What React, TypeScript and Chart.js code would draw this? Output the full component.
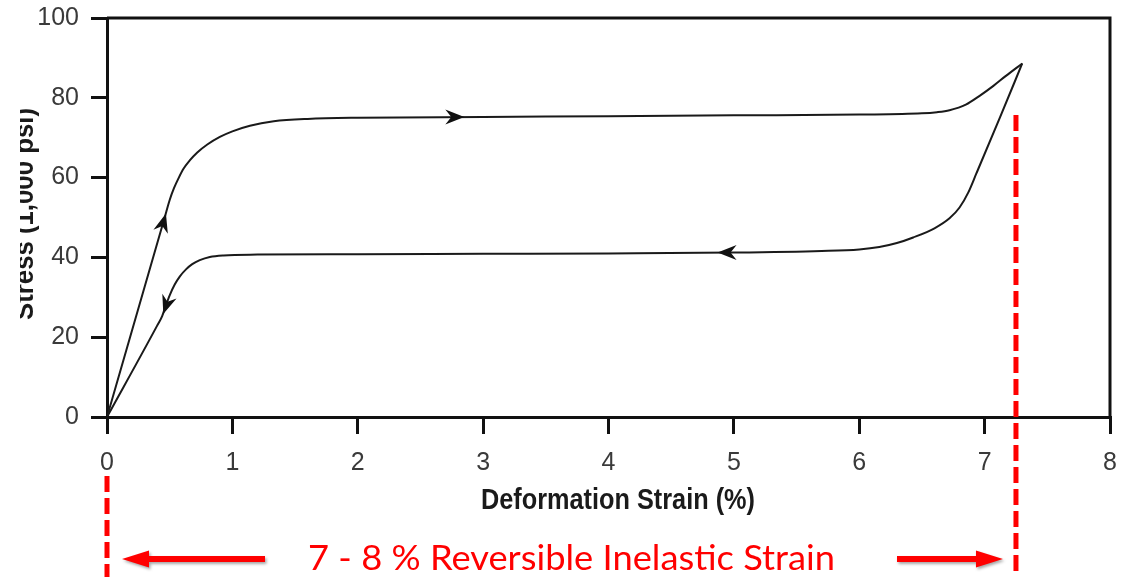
import React, { useEffect, useRef } from 'react';
import { Chart, registerables } from 'chart.js';

Chart.register(...registerables);

// ---- Data ----
const loadingStrain = [0, 0.46, 0.5, 0.535, 0.57, 0.61, 0.66, 0.72, 0.80, 0.90, 1.0, 1.14, 1.33, 1.6, 2.0, 3.0, 4.0, 5.0, 6.0, 6.5, 6.62, 6.72, 6.85, 6.96, 7.07, 7.17, 7.3];
const loadingStress = [0, 50.0, 54.4, 57.4, 59.8, 62.2, 64.3, 66.3, 68.3, 70.2, 71.6, 73.0, 74.1, 74.7, 75.0, 75.2, 75.4, 75.6, 75.8, 76.1, 76.4, 76.9, 78.3, 80.5, 83.0, 85.5, 88.6];

const unloadingStrain = [7.3, 7.12, 6.935, 6.87, 6.8, 6.72, 6.6, 6.43, 6.3, 6.16, 6.0, 5.7, 5.0, 4.0, 3.0, 2.0, 1.2, 0.93, 0.82, 0.74, 0.68, 0.63, 0.58, 0.54, 0.50, 0.47, 0.44, 0.40, 0];
const unloadingStress = [88.6, 74.9, 61.1, 56.3, 52.5, 49.8, 47.3, 45.0, 43.6, 42.6, 42.0, 41.6, 41.2, 41.0, 40.9, 40.8, 40.7, 40.5, 40.1, 39.3, 38.3, 37.0, 35.2, 33.2, 30.5, 28.0, 25.3, 22.9, 0];

// direction arrows: tip and a point behind the tip on the path
const arrowTipStrain = [0.47, 2.85, 4.87, 0.449];
const arrowTipStress = [51.0, 75.2, 41.2, 25.8];
const arrowTailStrain = [0.0, 2.5, 5.2, 0.50];
const arrowTailStress = [0.0, 75.2, 41.2, 30.5];

const xTickValues = [0, 1, 2, 3, 4, 5, 6, 7, 8];
const yTickValues = [0, 20, 40, 60, 80, 100];

// red annotation: strain range of reversible inelastic strain
const markerStrains = [0, 7.25];
const markerTopStress = [null, 75.7];

const xTitle = 'Deformation Strain (%)';
const yTitle = 'Stress (1,000 psi)';
const noteText = '7 - 8 % Reversible Inelastic Strain';

function fitText(ctx: CanvasRenderingContext2D, text: string, cx: number, cy: number, width: number) {
  const w = ctx.measureText(text).width;
  ctx.save();
  ctx.translate(cx, cy);
  ctx.scale(width / w, 1);
  ctx.textAlign = 'center';
  ctx.fillText(text, 0, 0);
  ctx.restore();
}

const decorPlugin = {
  id: 'decor',
  afterDraw(chart: any) {
    const ctx: CanvasRenderingContext2D = chart.ctx;
    const xs = chart.scales.x;
    const ys = chart.scales.y;
    const area = chart.chartArea;

    // top and right frame lines
    ctx.save();
    ctx.strokeStyle = '#111';
    ctx.lineWidth = 3;
    ctx.beginPath();
    ctx.moveTo(area.left, area.top);
    ctx.lineTo(area.right, area.top);
    ctx.lineTo(area.right, area.bottom);
    ctx.stroke();
    ctx.restore();

    // arrowheads
    ctx.save();
    ctx.fillStyle = '#111';
    for (let i = 0; i < arrowTipStrain.length; i++) {
      const px = xs.getPixelForValue(arrowTipStrain[i]);
      const py = ys.getPixelForValue(arrowTipStress[i]);
      const tx = xs.getPixelForValue(arrowTailStrain[i]);
      const ty = ys.getPixelForValue(arrowTailStress[i]);
      let ux = px - tx, uy = py - ty;
      const len = Math.hypot(ux, uy) || 1;
      ux /= len; uy /= len;
      const nx = -uy, ny = ux;
      const L = 19, W = 7.5, N = 6;
      ctx.beginPath();
      ctx.moveTo(px, py);
      ctx.lineTo(px - L * ux + W * nx, py - L * uy + W * ny);
      ctx.lineTo(px - (L - N) * ux, py - (L - N) * uy);
      ctx.lineTo(px - L * ux - W * nx, py - L * uy - W * ny);
      ctx.closePath();
      ctx.fill();
    }
    ctx.restore();

    // y title (cropped at the left edge as in the reference)
    ctx.save();
    ctx.beginPath();
    ctx.rect(20, 0, 60, chart.height);
    ctx.clip();
    ctx.fillStyle = '#1a1a1a';
    ctx.font = 'bold 28px "Liberation Sans Narrow", "Liberation Sans", Arial, sans-serif';
    ctx.translate(33, 214);
    ctx.rotate(-Math.PI / 2);
    ctx.textBaseline = 'alphabetic';
    fitText(ctx, yTitle, 0, 0, 212);
    ctx.restore();

    // x title
    ctx.save();
    ctx.fillStyle = '#1a1a1a';
    ctx.font = 'bold 29px "Liberation Sans Narrow", "Liberation Sans", Arial, sans-serif';
    ctx.textBaseline = 'alphabetic';
    fitText(ctx, xTitle, 618, 509, 274);
    ctx.restore();

    // red dashed marker lines
    ctx.save();
    ctx.strokeStyle = '#ff0000';
    ctx.lineWidth = 5;
    ctx.setLineDash([16, 6]);
    for (let i = 0; i < markerStrains.length; i++) {
      const x = xs.getPixelForValue(markerStrains[i]);
      const top = markerTopStress[i] == null ? area.bottom + 59 : ys.getPixelForValue(markerTopStress[i] as number);
      ctx.beginPath();
      ctx.moveTo(x, top);
      ctx.lineTo(x, chart.height);
      ctx.stroke();
    }
    ctx.restore();

    // red arrows with soft shadow
    const leftX = xs.getPixelForValue(markerStrains[0]);
    const rightX = xs.getPixelForValue(markerStrains[1]);
    const drawRedArrow = (fromX: number, toX: number, y: number) => {
      const dir = Math.sign(toX - fromX);
      const headL = 27, headW = 8.5;
      ctx.save();
      ctx.shadowColor = 'rgba(0,0,0,0.35)';
      ctx.shadowBlur = 3;
      ctx.shadowOffsetX = 1.5;
      ctx.shadowOffsetY = 2;
      ctx.fillStyle = '#ff0000';
      ctx.beginPath();
      ctx.moveTo(fromX, y - 3);
      ctx.lineTo(toX - dir * headL, y - 3);
      ctx.lineTo(toX - dir * headL, y - headW);
      ctx.lineTo(toX, y);
      ctx.lineTo(toX - dir * headL, y + headW);
      ctx.lineTo(toX - dir * headL, y + 3);
      ctx.lineTo(fromX, y + 3);
      ctx.closePath();
      ctx.fill();
      ctx.restore();
    };
    drawRedArrow(265, leftX + 15, 559);
    drawRedArrow(897, rightX - 13, 559);

    // red note text
    ctx.save();
    ctx.fillStyle = '#ff0000';
    ctx.font = '35px Lato, "Open Sans", sans-serif';
    ctx.textBaseline = 'alphabetic';
    fitText(ctx, noteText, 571.5, 570, 527);
    ctx.restore();
  },
};

export default function App() {
  const ref = useRef<HTMLCanvasElement>(null);

  useEffect(() => {
    const canvas = ref.current;
    if (!canvas) return;
    const tickFont = { family: '"Liberation Sans", Arial, sans-serif', size: 25, weight: 'normal' as const };
    const chart = new Chart(canvas, {
      type: 'line',
      data: {
        datasets: [
          {
            label: 'Loading',
            data: loadingStrain.map((x, i) => ({ x, y: loadingStress[i] })),
            borderColor: '#1a1a1a',
            borderWidth: 2,
            pointRadius: 0,
            fill: false,
            cubicInterpolationMode: 'monotone',
          },
          {
            label: 'Unloading',
            data: unloadingStrain.map((x, i) => ({ x, y: unloadingStress[i] })),
            borderColor: '#1a1a1a',
            borderWidth: 2,
            pointRadius: 0,
            fill: false,
            cubicInterpolationMode: 'monotone',
          },
        ],
      },
      options: {
        responsive: false,
        devicePixelRatio: 1,
        animation: false,
        layout: { padding: { left: 0, top: 18, right: 22, bottom: 0 } },
        plugins: { legend: { display: false }, tooltip: { enabled: false } },
        scales: {
          x: {
            type: 'linear',
            min: 0,
            max: 8,
            afterFit: (s: any) => { s.height = 160; s.paddingLeft = 0; s.paddingRight = 0; },
            afterBuildTicks: (s: any) => { s.ticks = xTickValues.map((v) => ({ value: v })); },
            ticks: { color: '#3a3a3a', font: tickFont, padding: 14, maxRotation: 0, autoSkip: false },
            grid: { drawOnChartArea: false, drawTicks: true, tickLength: 17, lineWidth: 3, color: '#111' },
            border: { display: true, width: 3, color: '#111' },
          },
          y: {
            type: 'linear',
            min: 0,
            max: 100,
            afterFit: (s: any) => { s.width = 107; s.paddingTop = 0; s.paddingBottom = 0; },
            afterBuildTicks: (s: any) => { s.ticks = yTickValues.map((v) => ({ value: v })); },
            ticks: { color: '#3a3a3a', font: tickFont, padding: 12, autoSkip: false },
            grid: { drawOnChartArea: false, drawTicks: true, tickLength: 16, lineWidth: 3, color: '#111' },
            border: { display: true, width: 3, color: '#111' },
          },
        },
      },
      plugins: [decorPlugin],
    } as any);
    return () => chart.destroy();
  }, []);

  return (
    <div style={{ position: 'fixed', left: 0, top: 0, width: 1132, height: 577, background: '#fff' }}>
      <canvas ref={ref} width={1132} height={577} style={{ display: 'block' }} />
    </div>
  );
}
